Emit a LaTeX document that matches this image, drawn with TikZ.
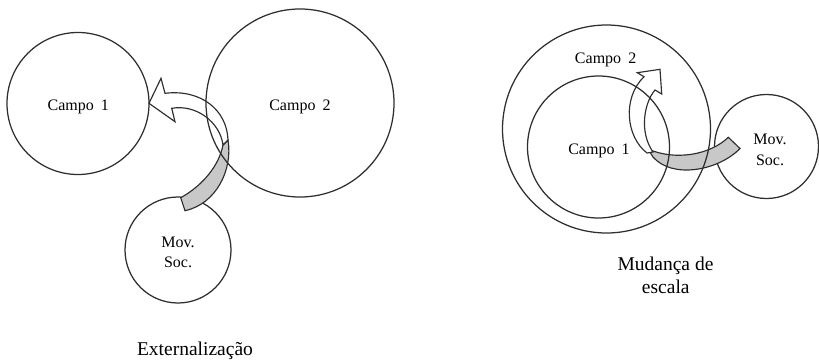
\documentclass[tikz,border=0pt]{standalone}
\usepackage{fontspec}
\setmainfont{Liberation Serif}
\newfontfamily\labelface{Liberation Serif}
\definecolor{ink}{HTML}{2E2E2E}
\definecolor{shade}{HTML}{C8C8C8}
\begin{document}
\begin{tikzpicture}[x=1pt,y=-1pt,
  ring/.style={draw=ink,line width=1.25pt,circle,inner sep=0pt},
  lbl/.style={font=\labelface\fontsize{16}{20}\selectfont,anchor=base,inner sep=0pt,text=black},
  captiontext/.style={font=\labelface\fontsize{19.5}{23}\selectfont,anchor=base,inner sep=0pt,text=black},
  band/.style={draw=ink,line width=1.15pt,line join=miter}]
\useasboundingbox (0,0) rectangle (819,359);

% ---------- Externalizacao ----------
\node[ring,minimum size=106pt] (msA) at (178,250) {};
% curved ribbon arrow: shaded back face, then white front face with head
\filldraw[band,fill=shade] (228,140) .. controls (233,170) and (216,204) .. (185,210.7)
  -- (180.7,197.7) .. controls (202,186) and (219,166) .. (223,145) -- cycle;
\filldraw[band,fill=white] (165,93.3) .. controls (201,89) and (227,110) .. (228,140)
  -- (223,145) .. controls (220,122) and (196,104) .. (171.7,108.3)
  -- (175,121.7) -- (149,103.3) -- (161,78.3) -- cycle;
\node[ring,minimum size=142pt] (campoA1) at (78,103.5) {};
\node[ring,minimum size=188pt] (campoA2) at (300,103) {};

\node[lbl] (tA1) at (78.3,110) {Campo\hspace{0.45em}1};
\node[lbl] (tA2) at (300,110) {Campo\hspace{0.45em}2};
\node[lbl] (tAm) at (178,247.3) {Mov.};
\node[lbl] (tAs) at (178,267.3) {Soc.};
\node[captiontext] (capA) at (195,355) {Externalização};

% ---------- Mudanca de escala ----------
\node[ring,minimum size=104pt] (msB) at (766.5,146.5) {};
\filldraw[band,fill=shade] (648,149) .. controls (675,161) and (710,155) .. (728.3,137.3)
  -- (740,148.5) .. controls (718,171) and (672,179) .. (653,157) -- cycle;
\filldraw[band,fill=white] (644,76.7) -- (637.3,72.7) -- (660,69.3) -- (661.7,94)
  -- (655,90) .. controls (644,103) and (639,132) .. (653,152)
  -- (647,153) .. controls (626,137) and (622,98) .. (644,76.7) -- cycle;
\node[ring,minimum size=208pt] (campoB2) at (606.5,129) {};
\node[ring,minimum size=142pt] (campoB1) at (598.5,147) {};

\node[lbl] (tB2) at (605.7,63.3) {Campo\hspace{0.45em}2};
\node[lbl] (tB1) at (599,154) {Campo\hspace{0.45em}1};
\node[lbl] (tBm) at (770,144) {Mov.};
\node[lbl] (tBs) at (770,165) {Soc.};
\node[captiontext] (capB1) at (665.5,270) {Mudança de};
\node[captiontext] (capB2) at (665.8,293.3) {escala};
\end{tikzpicture}
\end{document}
